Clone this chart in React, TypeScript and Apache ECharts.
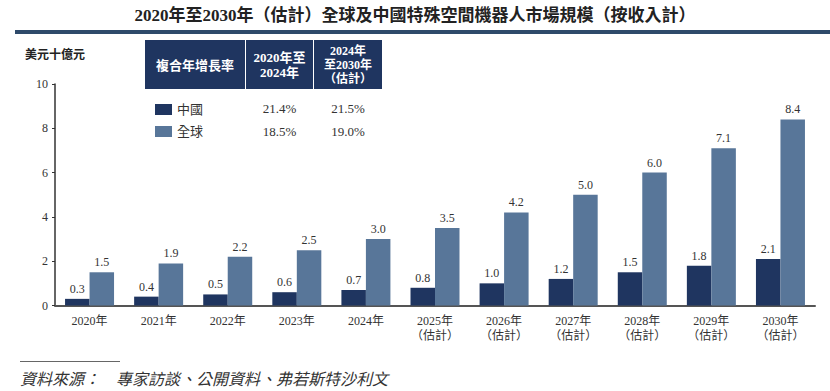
import React, { useEffect, useRef } from "react";
import * as echarts from "echarts";

const categories = ["2020年", "2021年", "2022年", "2023年", "2024年", "2025年\n（估計）", "2026年\n（估計）", "2027年\n（估計）", "2028年\n（估計）", "2029年\n（估計）", "2030年\n（估計）"];
const chinaValues = [0.3, 0.4, 0.5, 0.6, 0.7, 0.8, 1.0, 1.2, 1.5, 1.8, 2.1];
const globalValues = [1.5, 1.9, 2.2, 2.5, 3.0, 3.5, 4.2, 5.0, 6.0, 7.1, 8.4];
const seriesNames = ["中國", "全球"];
const cagrHeaders = ["複合年增長率", "2020年至\n2024年", "2024年\n至2030年\n（估計）"];
const cagrChina = ["21.4%", "21.5%"];
const cagrGlobal = ["18.5%", "19.0%"];
const yTicks = { min: 0, max: 10, interval: 2 };

const SERIF = "'Liberation Serif', 'Noto Sans CJK TC', serif";
const NAVY = "#1f3560";
const STEEL = "#587699";
const TXT = "#333333";

export default function App() {
  const ref = useRef<HTMLDivElement>(null);
  useEffect(() => {
    if (!ref.current) return;
    const chart = echarts.init(ref.current, undefined, { renderer: "svg" });
    const rowY = [108, 131];
    const colX = [279.5, 348];
    const graphic: any[] = [
      { type: "text", left: "center", top: 7, style: { text: "2020年至2030年（估計）全球及中國特殊空間機器人市場規模（按收入計）", font: `bold 17px ${SERIF}`, fill: "#222" } },
      { type: "rect", shape: { x: 15, y: 30, width: 815, height: 4 }, style: { fill: "#2e4a6a" } },
      { type: "text", x: 25, y: 49, style: { text: "美元十億元", font: `bold 12px ${SERIF}`, fill: "#222" } },
      { type: "rect", shape: { x: 145, y: 40, width: 100, height: 49 }, style: { fill: NAVY } },
      { type: "rect", shape: { x: 246, y: 40, width: 67, height: 49 }, style: { fill: NAVY } },
      { type: "rect", shape: { x: 314, y: 40, width: 68, height: 49 }, style: { fill: NAVY } },
      { type: "text", x: 195, y: 65, style: { text: cagrHeaders[0], font: `bold 13px ${SERIF}`, fill: "#fff", align: "center", verticalAlign: "middle" } },
      { type: "text", x: colX[0], y: 65, style: { text: cagrHeaders[1], font: `bold 13px ${SERIF}`, lineHeight: 15, fill: "#fff", align: "center", verticalAlign: "middle" } },
      { type: "text", x: colX[1], y: 65, style: { text: cagrHeaders[2], font: `bold 12px ${SERIF}`, lineHeight: 14, fill: "#fff", align: "center", verticalAlign: "middle" } },
      { type: "rect", shape: { x: 20, y: 361, width: 100, height: 1 }, style: { fill: "#666" } },
      { type: "text", x: 20, y: 371, style: { text: "資料來源：　專家訪談、公開資料、弗若斯特沙利文", font: `italic 16px ${SERIF}`, fill: "#333" } },
    ];
    [cagrChina, cagrGlobal].forEach((row, ri) => {
      row.forEach((v, ci) => {
        graphic.push({ type: "text", x: colX[ci], y: rowY[ri], style: { text: v, font: `13px ${SERIF}`, fill: TXT, align: "center", verticalAlign: "middle" } });
      });
    });
    const labelCfg = {
      show: true,
      position: "top",
      distance: 4,
      fontFamily: SERIF,
      fontSize: 12,
      color: TXT,
      formatter: (p: any) => Number(p.value).toFixed(1),
    };
    chart.setOption({
      animation: false,
      textStyle: { fontFamily: SERIF },
      graphic,
      legend: {
        data: seriesNames,
        orient: "vertical",
        left: 150,
        top: 98,
        itemWidth: 17,
        itemHeight: 11,
        itemGap: 9,
        icon: "rect",
        textStyle: { fontFamily: SERIF, fontSize: 13, color: TXT },
      },
      grid: { left: 55, right: 15, top: 84, bottom: 85.5, containLabel: false },
      xAxis: {
        type: "category",
        data: categories,
        axisLine: { lineStyle: { color: "#555", width: 2 } },
        axisTick: { show: false },
        axisLabel: { fontFamily: SERIF, fontSize: 12, color: TXT, margin: 8, lineHeight: 15, interval: 0 },
      },
      yAxis: {
        type: "value",
        min: yTicks.min,
        max: yTicks.max,
        interval: yTicks.interval,
        axisLine: { show: true, lineStyle: { color: "#333", width: 1.5 } },
        axisTick: { show: true, length: 3, lineStyle: { color: "#333" } },
        splitLine: { show: false },
        axisLabel: { fontFamily: SERIF, fontSize: 12, color: TXT, margin: 7 },
      },
      series: [
        { name: seriesNames[0], type: "bar", data: chinaValues, barWidth: 24.5, barGap: "0%", itemStyle: { color: NAVY }, label: labelCfg },
        { name: seriesNames[1], type: "bar", data: globalValues, barWidth: 24.5, barGap: "0%", itemStyle: { color: STEEL }, label: labelCfg },
      ],
    });
    return () => chart.dispose();
  }, []);
  return <div ref={ref} style={{ width: 830, height: 391, position: "absolute", left: 0, top: 0 }} />;
}
